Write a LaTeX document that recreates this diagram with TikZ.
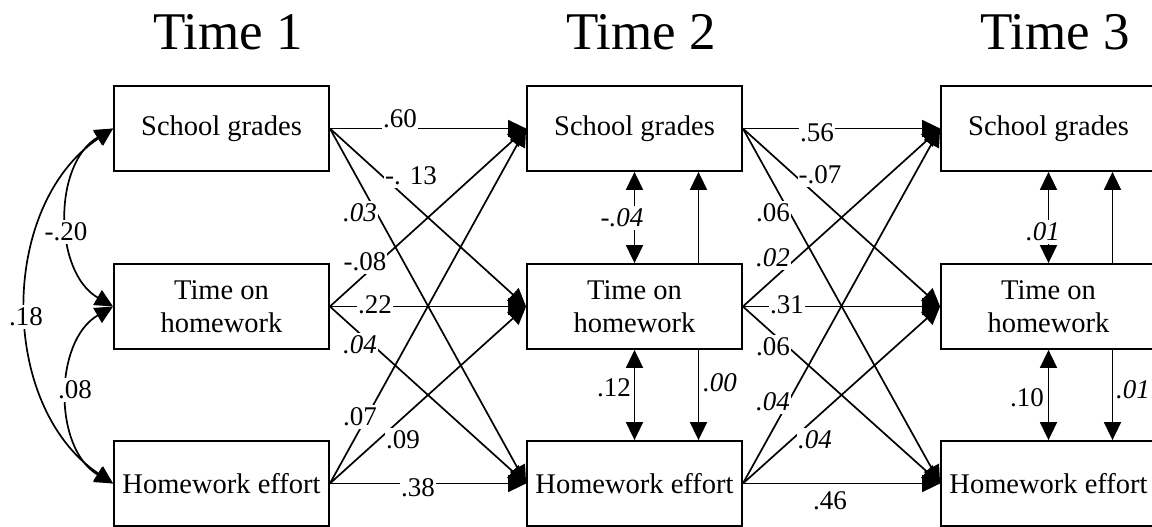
\documentclass[tikz,border=0pt]{standalone}
\usepackage{fontspec}
\setmainfont{Liberation Serif}
\usetikzlibrary{arrows.meta}

\begin{document}
\begin{tikzpicture}[
  x=1pt, y=-1pt,
  >={Triangle[length=18pt,width=17pt]},
  every node/.style={font=\fontsize{27}{30}\selectfont},
  var/.style={draw, line width=1.8pt, minimum width=215pt, minimum height=85pt, align=center, font=\fontsize{28.5}{33}\selectfont},
  timehead/.style={anchor=base, font=\fontsize{53}{60}\selectfont},
  lbl/.style={fill=white, inner xsep=1pt, inner ysep=3pt},
  coef/.style={->, line width=1.7pt}
]
  \useasboundingbox (0,0) rectangle (1152,527);

  \node[timehead] (t1) at (228,50)  {Time 1};
  \node[timehead] (t2) at (641,50)  {Time 2};
  \node[timehead] (t3) at (1055,50) {Time 3};

  \foreach \c/\x in {1/221.5,2/634.5,3/1048.5} {
    \node[var] (sg\c) at (\x,128.5) {School grades};
    \node[var] (th\c) at (\x,306.5) {Time on\\homework};
    \node[var] (he\c) at (\x,483.5) {Homework effort};
  }

  % cross-lagged paths
  \foreach \s in {sg,th,he}
    \foreach \t in {sg,th,he} {
      \draw[coef] (\s1.east) -- (\t2.west);
      \draw[coef] (\s2.east) -- (\t3.west);
    }

  % within-time paths
  \foreach \c in {2,3} {
    \draw[coef,<->] (sg\c.south) -- (th\c.north);
    \draw[coef,<->] (th\c.south) -- (he\c.north);
    \draw[coef] ([xshift=64pt]th\c.north) -- ([xshift=64pt]sg\c.south);
    \draw[coef] ([xshift=64pt]th\c.south) -- ([xshift=64pt]he\c.north);
  }

  % correlations at time 1
  \draw[coef,<->] (sg1.west) to[out=210,in=150] (th1.west);
  \draw[coef,<->] (th1.west) to[out=210,in=150] (he1.west);
  \draw[coef,<->] (sg1.west) to[out=214,in=146] (he1.west);

  \node[lbl] (r1) at (66,232) {-.20};
  \node[lbl] (r2) at (26,317) {.18};
  \node[lbl] (r3) at (75,390) {.08};

  \node[lbl] (a1) at (400,119) {.60};
  \node[lbl] (a2) at (411,176) {-. 13};
  \node[lbl] (a3) at (360,213) {\textit{.03}};
  \node[lbl] (a4) at (365,262) {-.08};
  \node[lbl] (a5) at (375,305) {.22};
  \node[lbl] (a6) at (360,345) {\textit{.04}};
  \node[lbl] (a7) at (360,417) {.07};
  \node[lbl] (a8) at (403,440) {.09};
  \node[lbl] (a9) at (418,488) {.38};

  \node[lbl] (b1) at (817,133) {.56};
  \node[lbl] (b2) at (820,175) {-.07};
  \node[lbl] (b3) at (773,213) {.06};
  \node[lbl] (b4) at (773,258) {\textit{.02}};
  \node[lbl] (b5) at (787,305) {.31};
  \node[lbl] (b6) at (773,347) {.06};
  \node[lbl] (b7) at (773,402) {\textit{.04}};
  \node[lbl] (b8) at (815,440) {\textit{.04}};
  \node[lbl, inner ysep=5pt] (b9) at (830,501) {.46};

  \node[lbl] (w1) at (622,218)  {\textit{-.04}};
  \node[lbl] (w2) at (614,388)  {.12};
  \node[lbl] (w3) at (720,383)  {\textit{.00}};
  \node[lbl] (w4) at (1043,232) {\textit{.01}};
  \node[lbl] (w5) at (1027,398) {.10};
  \node[lbl] (w6) at (1133,390) {\textit{.01}};
\end{tikzpicture}
\end{document}
